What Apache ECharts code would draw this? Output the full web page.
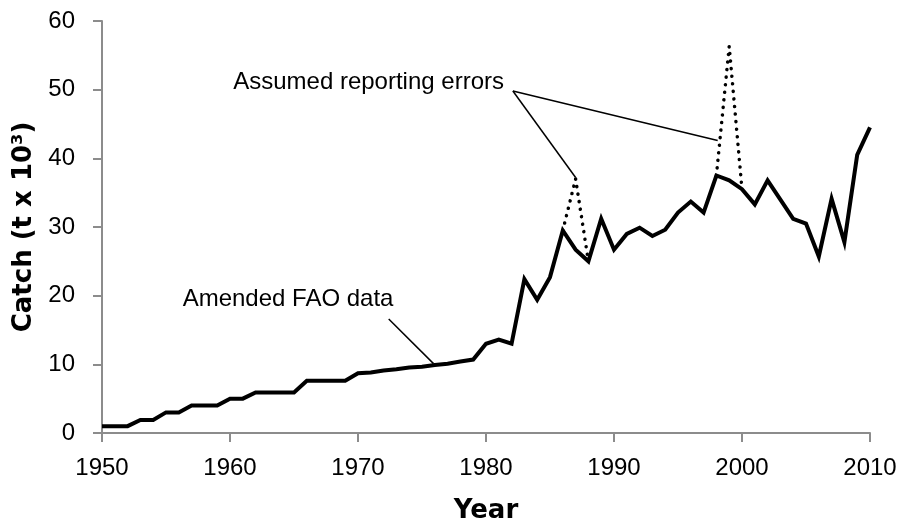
<!DOCTYPE html>
<html>
<head>
<meta charset="utf-8">
<style>html,body{margin:0;padding:0;background:#fff}#c{width:900px;height:529px}</style>
<script src="https://cdn.jsdelivr.net/npm/echarts@6/dist/echarts.min.js"></script>
</head>
<body>
<div id="c"></div>
<script>
var years = [];
for (var y = 1950; y <= 2010; y++) years.push(y);
var amendedCatch = [
  1.0, 1.0, 1.0, 1.9, 1.9, 3.0, 3.0, 4.0, 4.0, 4.0,
  5.0, 5.0, 5.9, 5.9, 5.9, 5.9, 7.6, 7.6, 7.6, 7.6,
  8.7, 8.8, 9.1, 9.3, 9.55, 9.65, 9.9, 10.1, 10.4, 10.7,
  13.0, 13.6, 13.0, 22.4, 19.4, 22.7, 29.5, 26.7, 25.0, 31.2,
  26.7, 29.0, 29.9, 28.7, 29.6, 32.1, 33.7, 32.1, 37.5, 36.8,
  35.5, 33.3, 36.8, 34.0, 31.2, 30.5, 25.7, 34.1, 27.8, 40.5,
  44.5
];
var errorYearsA = [1986, 1987, 1988];
var errorValuesA = [29.5, 37.0, 25.0];
var errorYearsB = [1998, 1999, 2000];
var errorValuesB = [37.5, 56.3, 35.5];
var yTicks = [0, 10, 20, 30, 40, 50, 60];
var xTicks = [1950, 1960, 1970, 1980, 1990, 2000, 2010];

var FONT = '"Liberation Sans", Arial, sans-serif';
var BOLD = '"DejaVu Sans", Verdana, sans-serif';
function pairs(xs, vs) { return xs.map(function (x, i) { return [x, vs[i]]; }); }

var chart = echarts.init(document.getElementById('c'));
var dotted = {
  type: 'line', showSymbol: false, symbol: 'none', silent: true, z: 1,
  lineStyle: { color: '#000', width: 3.5, type: [0.1, 7.5], cap: 'round' }
};
var annLine = { color: '#000', width: 1.5, type: 'solid' };
chart.setOption({
  animation: false,
  grid: { left: 102, right: 30, top: 21, bottom: 90 },
  xAxis: {
    type: 'value', min: xTicks[0], max: xTicks[xTicks.length - 1], interval: 10,
    name: 'Year', nameLocation: 'middle', nameGap: 65,
    nameTextStyle: { fontFamily: BOLD, fontSize: 26, fontWeight: 'bold', color: '#000' },
    axisLine: { show: true, lineStyle: { color: '#8c8c8c', width: 2 } },
    axisTick: { show: true, length: 9, lineStyle: { color: '#8c8c8c', width: 2 } },
    axisLabel: { fontFamily: FONT, fontSize: 24, color: '#000', margin: 23,
      formatter: function (v) { return String(v); } },
    splitLine: { show: false }
  },
  yAxis: {
    type: 'value', min: yTicks[0], max: yTicks[yTicks.length - 1], interval: 10,
    name: 'Catch (t x 10³)', nameLocation: 'middle', nameGap: 65, nameRotate: 90,
    nameTextStyle: { fontFamily: BOLD, fontSize: 26, fontWeight: 'bold', color: '#000' },
    axisLine: { show: true, lineStyle: { color: '#8c8c8c', width: 2 } },
    axisTick: { show: true, length: 9, lineStyle: { color: '#8c8c8c', width: 2 } },
    axisLabel: { fontFamily: FONT, fontSize: 24, color: '#000', margin: 27 },
    splitLine: { show: false }
  },
  series: [
    Object.assign({}, dotted, { data: pairs(errorYearsA, errorValuesA) }),
    Object.assign({}, dotted, { data: pairs(errorYearsB, errorValuesB) }),
    {
      type: 'line', showSymbol: false, symbol: 'none', z: 3,
      lineStyle: { color: '#000', width: 4, join: 'miter' },
      data: pairs(years, amendedCatch),
      markLine: {
        silent: true, symbol: ['none', 'none'], animation: false,
        label: { show: false }, lineStyle: annLine,
        data: [
          [{ coord: [1982.1, 49.8] }, { coord: [1987.0, 37.2] }],
          [{ coord: [1982.1, 49.8] }, { coord: [1998.1, 42.6] }],
          [{ coord: [1972.4, 16.6] }, { coord: [1975.9, 10.1] }]
        ]
      }
    }
  ]
});

var p1 = chart.convertToPixel({ gridIndex: 0 }, [1960.25, 51.0]);
var p2 = chart.convertToPixel({ gridIndex: 0 }, [1956.3, 19.4]);
chart.setOption({
  graphic: [
    { type: 'text', x: p1[0], y: p1[1],
      style: { text: 'Assumed reporting errors', font: '24px ' + FONT, fill: '#000',
        textVerticalAlign: 'middle', verticalAlign: 'middle' } },
    { type: 'text', x: p2[0], y: p2[1],
      style: { text: 'Amended FAO data', font: '24px ' + FONT, fill: '#000',
        textVerticalAlign: 'middle', verticalAlign: 'middle' } }
  ]
});
</script>
</body>
</html>
